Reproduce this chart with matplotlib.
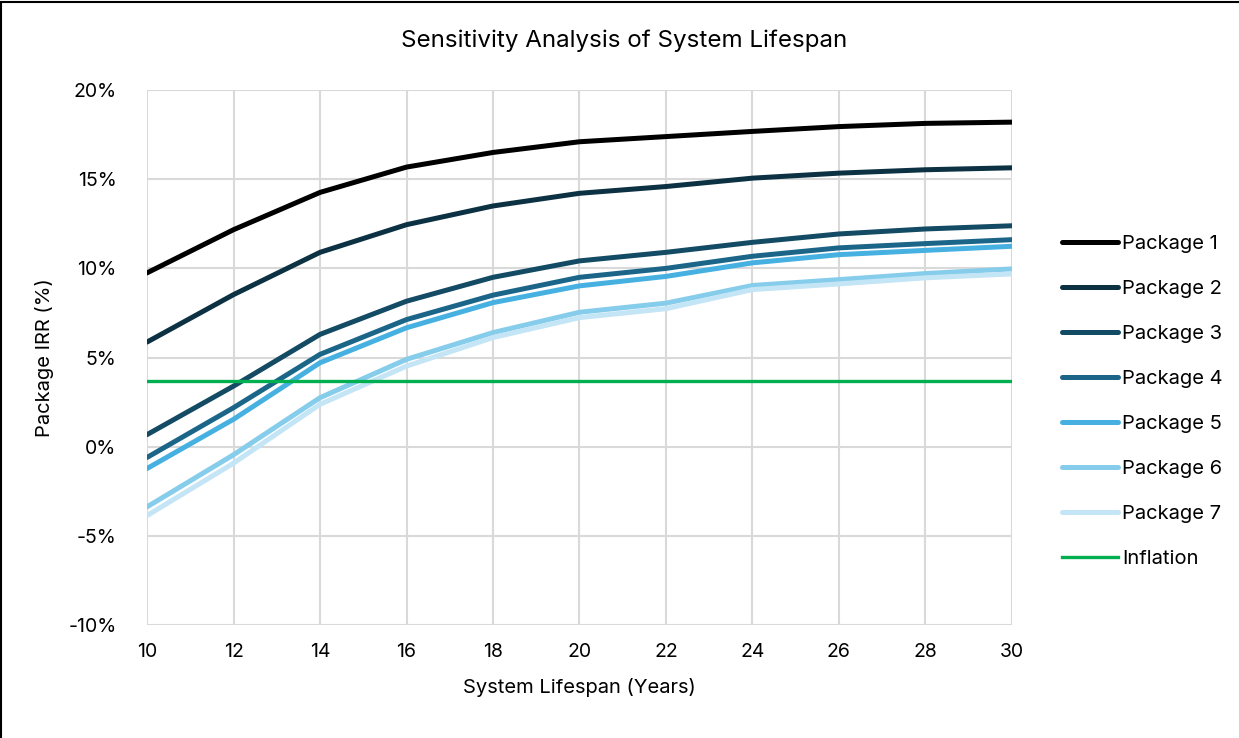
import matplotlib.pyplot as plt
from matplotlib.patches import Rectangle
from matplotlib.ticker import PercentFormatter

plt.rcParams['font.family'] = ['Inter', 'DejaVu Sans']
plt.rcParams['axes.unicode_minus'] = False

lifespan = [10, 12, 14, 16, 18, 20, 22, 24, 26, 28, 30]

pkg1 = [9.75, 12.17, 14.26, 15.68, 16.50, 17.10, 17.39, 17.68, 17.95, 18.13, 18.20]
pkg2 = [5.87, 8.53, 10.90, 12.45, 13.50, 14.21, 14.59, 15.06, 15.34, 15.53, 15.64]
pkg3 = [0.68, 3.40, 6.30, 8.16, 9.50, 10.42, 10.90, 11.46, 11.93, 12.21, 12.39]
pkg4 = [-0.60, 2.19, 5.18, 7.13, 8.50, 9.50, 10.00, 10.68, 11.15, 11.39, 11.61]
pkg5 = [-1.22, 1.54, 4.71, 6.67, 8.08, 9.02, 9.55, 10.31, 10.77, 11.01, 11.24]
pkg6 = [-3.37, -0.45, 2.75, 4.90, 6.40, 7.54, 8.05, 9.04, 9.37, 9.71, 9.97]
pkg7 = [-3.86, -0.92, 2.38, 4.52, 6.12, 7.24, 7.74, 8.81, 9.13, 9.47, 9.69]
inflation = 3.7

series = [pkg1, pkg2, pkg3, pkg4, pkg5, pkg6, pkg7]
names = ["Package 1", "Package 2", "Package 3", "Package 4",
         "Package 5", "Package 6", "Package 7"]
colors = ["#000000", "#0c3142", "#144b64", "#1b6589",
          "#46b0e1", "#86cdec", "#c4e5f5"]

fig = plt.figure(figsize=(12.39, 7.38), dpi=100)
ax = fig.add_axes([0.1187, 0.153, 0.698, 0.725])

for vals, name, c in zip(series, names, colors):
    ax.plot(lifespan, vals, color=c, lw=3.6, label=name,
            solid_capstyle='round', solid_joinstyle='round')
ax.plot([lifespan[0], lifespan[-1]], [inflation, inflation],
        color="#00b050", lw=2.4, label="Inflation")

ax.set_xlim(10, 30)
ax.set_ylim(-10, 20)
ax.set_xticks(range(10, 31, 2))
ax.set_yticks(range(-10, 21, 5))
ax.yaxis.set_major_formatter(PercentFormatter(decimals=0))
ax.grid(True, color="#d9d9d9", lw=1.5)
ax.set_axisbelow(True)
for s in ax.spines.values():
    s.set_visible(False)
ax.tick_params(length=0, labelsize=14, pad=13, colors="#000000")
ax.tick_params(axis='y', pad=22)

fig.text(0.504, 0.945, "Sensitivity Analysis of System Lifespan",
         fontsize=17.4, ha='center', va='center')
ax.set_xlabel("System Lifespan (Years)", fontsize=14.5, labelpad=12)
ax.set_ylabel("Package IRR (%)", fontsize=14.5, labelpad=10)

ax.legend(loc='center left', bbox_to_anchor=(1062 / 1239, 0.4560),
          bbox_transform=fig.transFigure, frameon=False,
          fontsize=14.5, handlelength=2.8, handletextpad=0.2,
          labelspacing=1.34, borderaxespad=0, borderpad=0)

# chart border
fig.patches.append(Rectangle((0.001, -0.01), 1.2, 1.0075, transform=fig.transFigure,
                             fill=False, edgecolor="#000000", lw=1.5))

fig.savefig("out.png", dpi=100)
